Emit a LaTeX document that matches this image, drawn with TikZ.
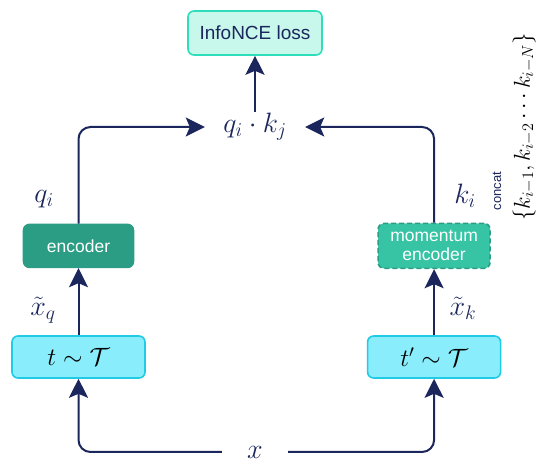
\documentclass[tikz,border=0pt]{standalone}
\usepackage{fix-cm}
\usepackage{fontspec}
\setsansfont{Liberation Sans}
\usepackage{xcolor}
\usepackage{tikz}
\usetikzlibrary{arrows.meta,positioning}
\definecolor{navy}{RGB}{27,38,92}
\definecolor{lossfill}{RGB}{200,247,235}
\definecolor{lossline}{RGB}{46,222,186}
\definecolor{encfill}{RGB}{42,157,132}
\definecolor{mencfill}{RGB}{54,196,165}
\definecolor{augfill}{RGB}{138,237,251}
\definecolor{augline}{RGB}{33,203,230}

\begin{document}
\begin{tikzpicture}[
  x=1pt, y=1pt,
  font=\sffamily\fontsize{17.5}{19}\selectfont,
  box/.style={rounded corners=6pt, align=center, inner sep=0pt, line width=1.6pt},
  lossbox/.style={box, draw=lossline, fill=lossfill, text=navy, minimum width=134pt, minimum height=44pt, font=\sffamily\fontsize{19}{22}\selectfont},
  encbox/.style={box, draw=encfill, fill=encfill, text=white, minimum width=110pt, minimum height=43pt},
  mencbox/.style={box, draw=encfill, dash pattern=on 5pt off 3pt, fill=mencfill, text=white, minimum width=112pt, minimum height=45pt},
  augbox/.style={box, draw=augline, fill=augfill, minimum width=133pt, minimum height=42pt, font=\fontsize{25}{29}\selectfont},
  lab/.style={text=navy, inner sep=0pt, font=\fontsize{28}{32}\selectfont},
  arr/.style={-{Stealth[length=19pt, width=19pt, inset=4pt]}, line width=2pt, draw=navy}
]
\useasboundingbox (0,0) rectangle (536,463);
\node[augbox] (tq) at (78.5,106) {$t\sim\mathcal{T}$};
\node[augbox, right=221pt of tq] (tk) {$t'\sim\mathcal{T}$};
\node[encbox, above=67pt of tq] (enc) {encoder};
\node[mencbox, above=66pt of tk] (menc) {momentum\\encoder};
\node[lab, minimum width=100pt, minimum height=30pt] (qk) at (255,336) {$q_i\cdot k_j$};
\node[lossbox, above=56pt of qk] (loss) {InfoNCE loss};
\node[lab, minimum width=66pt] (xin) at (255,11) {$x$};
\node[lab] (ql) at (44,264) {$q_i$};
\node[lab] (kl) at (465,267) {$k_i$};
\node[lab] (xql) at (43,153) {$\tilde{x}_q$};
\node[lab] (xkl) at (463,155) {$\tilde{x}_k$};
\node[text=navy, rotate=90, font=\sffamily\fontsize{13}{15}\selectfont] (cat) at (497,272) {concat};
\node[lab, text=black, rotate=90, font=\fontsize{23}{27}\selectfont] (kset) at (524,336) {$\{k_{i-1}, k_{i-2}\cdots k_{i-N}\}$};
\draw[arr] (tq) -- (enc);
\draw[arr] (tk) -- (menc);
\draw[arr, rounded corners=12pt] (enc.north) |- (qk.west);
\draw[arr, rounded corners=12pt] (menc.north) |- (qk.east);
\draw[arr] (qk) -- (loss);
\draw[arr, rounded corners=12pt] (xin.west) -| (tq.south);
\draw[arr, rounded corners=12pt] (xin.east) -| (tk.south);
\end{tikzpicture}
\end{document}
